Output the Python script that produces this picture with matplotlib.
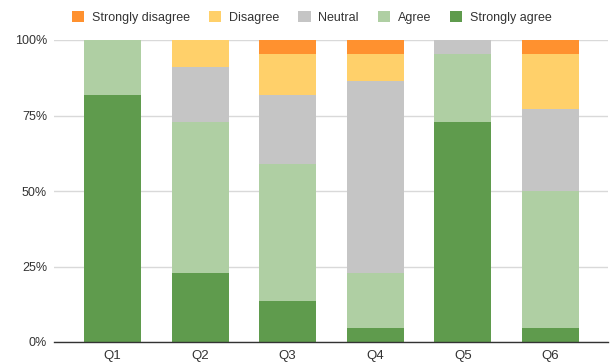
import matplotlib
matplotlib.use("Agg")
import matplotlib.pyplot as plt
import numpy as np

questions = ["Q1", "Q2", "Q3", "Q4", "Q5", "Q6"]
series_names = ["Strongly disagree", "Disagree", "Neutral", "Agree", "Strongly agree"]
# counts out of 22 respondents
strongly_disagree = [0, 0, 1, 1, 0, 1]
disagree = [0, 2, 3, 2, 0, 4]
neutral = [0, 4, 5, 14, 1, 6]
agree = [4, 11, 10, 4, 5, 10]
strongly_agree = [18, 5, 3, 1, 16, 1]
colors = ["#ff912f", "#ffd06a", "#c5c5c5", "#afcfa3", "#5f9b4d"]

plt.rcParams['font.family'] = ['Liberation Sans', 'DejaVu Sans']

fig = plt.figure(figsize=(6.1, 3.64), dpi=100)
ax = fig.add_axes([54/610, 22/364, 554/610, 302/364])

data = np.array([strongly_agree, agree, neutral, disagree, strongly_disagree], dtype=float)
totals = data.sum(axis=0)
pct = data / totals
order_names = series_names[::-1]
order_colors = colors[::-1]
x = np.arange(len(questions))
bottom = np.zeros(len(questions))
handles = {}
for vals, name, c in zip(pct, order_names, order_colors):
    b = ax.bar(x, vals, 0.65, bottom=bottom, color=c, label=name, zorder=3)
    handles[name] = b
    bottom += vals

ax.set_xlim(-0.67, 5.66)
ax.set_ylim(0, 1)
ax.set_yticks([0, 0.25, 0.5, 0.75, 1.0])
ax.set_yticklabels(["0%", "25%", "50%", "75%", "100%"])
ax.set_xticks(x)
ax.set_xticklabels(questions)
ax.tick_params(axis='y', length=0, labelsize=9, colors="#333333", pad=5)
ax.tick_params(axis='x', length=0, labelsize=9.5, colors="#333333", pad=6)
ax.grid(axis='y', color="#d9d9d9", linewidth=1, zorder=0)
for s in ["top", "right", "left"]:
    ax.spines[s].set_visible(False)
ax.spines["bottom"].set_color("#333333")
ax.spines["bottom"].set_linewidth(1)
ax.spines["bottom"].set_zorder(4)

leg = fig.legend([handles[n] for n in series_names], series_names, loc="center left",
                 bbox_to_anchor=(68/610, 1 - 17.5/364), ncol=5, frameon=False,
                 fontsize=9, handlelength=1.0, handleheight=1.0, handletextpad=0.62,
                 columnspacing=1.5, labelcolor="#333333", borderaxespad=0, borderpad=0.3)

fig.savefig("out.png", dpi=100)
